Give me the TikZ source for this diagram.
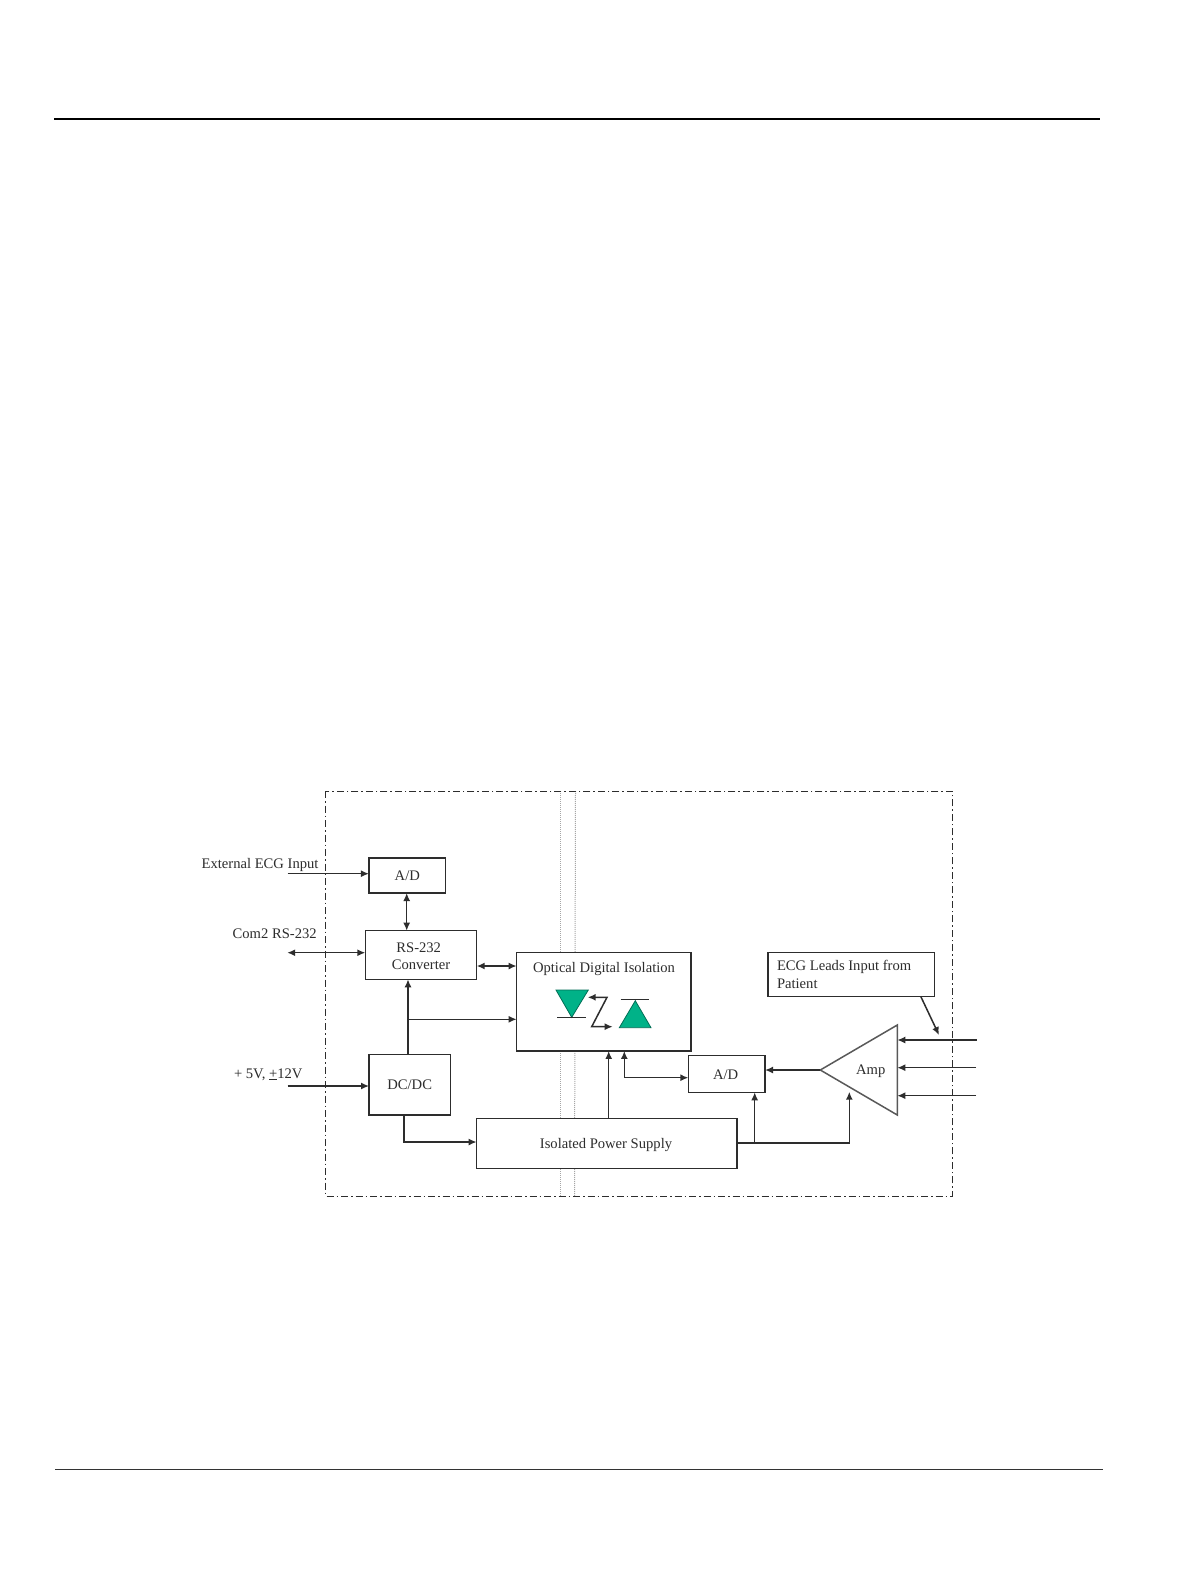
\documentclass[tikz,border=0pt]{standalone}
\usepackage{fontspec}
\setmainfont{Liberation Serif}
\usetikzlibrary{arrows.meta,calc}
\definecolor{ink}{RGB}{45,45,45}
\definecolor{diode}{RGB}{0,178,136}
\definecolor{diodeedge}{RGB}{0,110,85}
\tikzset{
  lbl/.style={font=\fontsize{14.6}{17}\selectfont,text=ink,inner sep=0pt,outer sep=0pt,align=center},
  boxed/.style={draw=ink,line width=1.5pt,fill=white,inner sep=0pt,outer sep=0pt,align=center,font=\fontsize{14.6}{17}\selectfont,text=ink},
  conn/.style={draw=ink,line width=1.5pt,-{Latex[length=8pt,width=7pt]}},
  both/.style={draw=ink,line width=1.5pt,{Latex[length=8pt,width=7pt]}-{Latex[length=8pt,width=7pt]}},
  frameline/.style={draw=ink,line width=1pt,dash pattern=on 7pt off 3pt on 1.5pt off 3pt},
  barrier/.style={draw=black!35,line width=1pt,dash pattern=on 1pt off 1pt},
  rule/.style={draw=black,line width=1.3pt},
  rulethin/.style={draw=black!80,line width=0.8pt},
  diodeshape/.style={fill=diode,draw=diodeedge,line width=0.8pt,line join=miter},
  diodebar/.style={draw=ink,line width=1pt}
}
\begin{document}
\begin{tikzpicture}[x=1pt,y=-1pt]
\useasboundingbox (0,0) rectangle (1190,1584);
\fill[white] (0,0) rectangle (1190,1584);
% page rules
\coordinate (tl) at (54,119); \coordinate (tr) at (1100,119);
\coordinate (bl) at (55,1469); \coordinate (br) at (1103,1469);
\draw[rule] (tl) -- (tr);
\draw[rulethin] (bl) -- (br);
% barrier
\coordinate (b1t) at (560.7,791); \coordinate (b1b) at (560.7,1196);
\coordinate (b2t) at (575.5,791); \coordinate (b2b) at (574.5,1196);
\draw[barrier] (b1t) -- (b1b);
\draw[barrier] (b2t) -- (b2b);
% outer frame
\coordinate (fa) at (325.7,791); \coordinate (fb) at (952,1196);
\draw[frameline] (fa) rectangle (fb);
% boxes
\node[boxed,minimum width=76.7pt,minimum height=35pt] (adone) at (407.3,875.5) {A/D};
\node[boxed,minimum width=111.4pt,minimum height=48.6pt] (rs) at (421,955) {};
\node[lbl] (rslabelone) at (418.7,947.5) {RS-232};
\node[lbl] (rslabeltwo) at (421,964.5) {Converter};
\node[boxed,minimum width=81.3pt,minimum height=60.3pt] (dc) at (409.7,1084.8) {};
\node[lbl] (dclabel) at (409.7,1085) {DC/DC};
\node[boxed,minimum width=260.3pt,minimum height=50pt] (ps) at (606.8,1143.7) {};
\node[lbl] (pslabel) at (606,1144.8) {Isolated Power Supply};
\node[boxed,minimum width=174.3pt,minimum height=98.3pt] (opt) at (603.8,1001.8) {};
\node[lbl] (optlabel) at (604,968.5) {Optical Digital Isolation};
\node[boxed,minimum width=76.7pt,minimum height=36.6pt] (adtwo) at (726.7,1074) {};
\node[lbl] (adtwolabel) at (725.7,1075) {A/D};
\node[boxed,minimum width=166.3pt,minimum height=43.6pt] (ecg) at (851.2,974.5) {};
\node[lbl,anchor=base west] (ecgone) at (777,970) {ECG Leads Input from};
\node[lbl,anchor=base west] (ecgtwo) at (777,988) {Patient};
% amp
\coordinate (amptip) at (820.3,1070);
\coordinate (amptop) at (897.3,1025);
\coordinate (ampbot) at (897.3,1115);
\draw[draw=black!65,line width=1.5pt,fill=white,line join=miter] (amptip) -- (amptop) -- (ampbot) -- cycle;
\node[lbl] (amplabel) at (870.7,1071) {Amp};
% outside labels
\node[lbl,anchor=base west] (extlabel) at (201.7,868) {External ECG Input};
\node[lbl,anchor=base west] (comlabel) at (232.7,938) {Com2 RS-232};
\node[lbl,anchor=base west] (pwrlabel) at (234,1078) {+ 5V, \underline{+}12V};
% free ends
\coordinate (extin) at (287.7,873.7);
\coordinate (comout) at (287.2,952.7);
\coordinate (pwrin) at (287.7,1086);
\coordinate (leadone) at (976.7,1040);
\coordinate (leadtwo) at (976,1067.7);
\coordinate (leadthree) at (976,1095.7);
\coordinate (ecgfrom) at (920.7,996.3);
\coordinate (ecgto) at (939,1035);
\coordinate (ampin) at (849.3,1091.7);
% connectors
\draw[conn] (extin) -- (extin -| adone.west);
\draw[both] (comout) -- (comout -| rs.west);
\draw[conn] (pwrin) -- (pwrin -| dc.west);
\coordinate (adrs) at (406.7,912);
\draw[both] (adrs |- adone.south) -- (adrs |- rs.north);
\coordinate (dcup) at (408,1054.7);
\draw[conn] (dcup) -- (dcup |- rs.south);
\coordinate (junc) at (408,1019.3);
\draw[conn] (junc) -- (junc -| opt.west);
\coordinate (rsopt) at (476.7,966);
\draw[both] (rsopt) -- (rsopt -| opt.west);
\coordinate (dcdown) at (404,1115);
\coordinate (pscorner) at (404,1142);
\draw[conn] (dcdown) -- (pscorner) -- (pscorner -| ps.west);
\coordinate (psup) at (608.7,1118.7);
\draw[conn] (psup) -- (psup |- opt.south);
\coordinate (optdown) at (624.3,1077.7);
\draw[both] (optdown |- opt.south) -- (optdown) -- (optdown -| adtwo.west);
\draw[conn] (amptip) -- (amptip -| adtwo.east);
\coordinate (psright) at (737,1143);
\draw[conn] (psright) -- (ampin |- psright) -- (ampin);
\coordinate (psbranch) at (754.7,1143);
\draw[conn] (psbranch) -- (psbranch |- adtwo.south);
\draw[conn] (leadone) -- (leadone -| amptop);
\draw[conn] (leadtwo) -- (leadtwo -| amptop);
\draw[conn] (leadthree) -- (leadthree -| amptop);
\draw[conn] (ecgfrom) -- (ecgto);
% optocoupler
\coordinate (dla) at (556,990); \coordinate (dlb) at (588.3,990); \coordinate (dlc) at (571.7,1017.3);
\draw[diodeshape] (dla) -- (dlb) -- (dlc) -- cycle;
\coordinate (bla) at (557.3,1017.7); \coordinate (blb) at (586,1017.7);
\draw[diodebar] (bla) -- (blb);
\coordinate (dra) at (619.3,1027.7); \coordinate (drb) at (651,1027.7); \coordinate (drc) at (635.3,1000.7);
\draw[diodeshape] (dra) -- (drb) -- (drc) -- cycle;
\coordinate (bra) at (620.7,999.7); \coordinate (brb) at (649,999.7);
\draw[diodebar] (bra) -- (brb);
\coordinate (za) at (587.7,997.3); \coordinate (zb) at (607,997.3); \coordinate (zc) at (591.7,1026.7); \coordinate (zd) at (612.7,1026.7);
\draw[both] (za) -- (zb) -- (zc) -- (zd);
\end{tikzpicture}
\end{document}
